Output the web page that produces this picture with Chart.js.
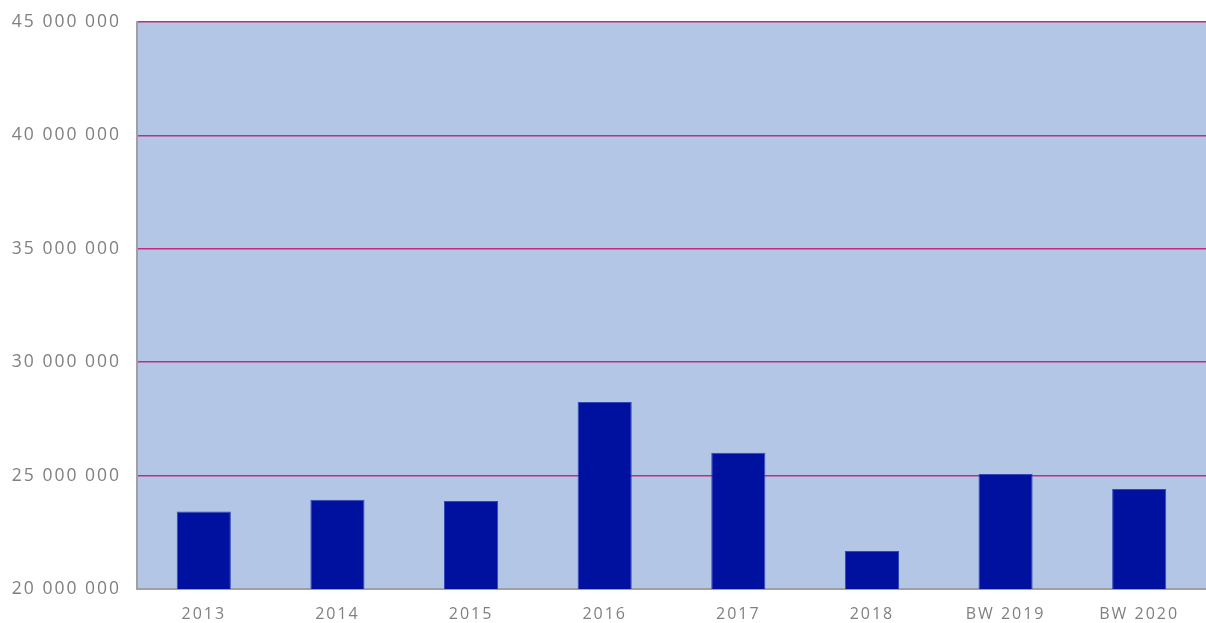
<!DOCTYPE html>
<html>
<head>
<meta charset="utf-8">
<script src="https://cdn.jsdelivr.net/npm/chart.js@4/dist/chart.umd.min.js"></script>
<style>
html,body{margin:0;padding:0;background:#fff;}
#wrap{width:1206px;height:623px;position:relative;}
</style>
</head>
<body>
<div id="wrap"><canvas id="c" width="1206" height="623"></canvas></div>
<script>
const categories = ["2013","2014","2015","2016","2017","2018","BW 2019","BW 2020"];
const values = [23420000, 23940000, 23880000, 28250000, 26010000, 21680000, 25070000, 24410000];
const yTicks = [20000000, 25000000, 30000000, 35000000, 40000000, 45000000];

function fmt(v){ return String(v).replace(/\B(?=(\d{3})+(?!\d))/g, " "); }

const LS = '2px';
const bgPlugin = {
  id: 'plotBg',
  beforeInit(chart){ chart.ctx.letterSpacing = LS; },
  beforeUpdate(chart){ chart.ctx.letterSpacing = LS; },
  beforeLayout(chart){ chart.ctx.letterSpacing = LS; },
  beforeDraw(chart){
    const {ctx, chartArea:a} = chart;
    ctx.letterSpacing = LS;
    ctx.save();
    ctx.fillStyle = '#B3C6E6';
    ctx.fillRect(a.left, a.top, a.right - a.left, a.bottom - a.top);
    ctx.restore();
  }
};

new Chart(document.getElementById('c'), {
  type: 'bar',
  data: {
    labels: categories,
    datasets: [{
      data: values,
      backgroundColor: '#00109F',
      borderColor: '#3048B8',
      borderWidth: 1,
      barPercentage: 0.405,
      categoryPercentage: 1.0
    }]
  },
  options: {
    responsive: false,
    animation: false,
    layout: { padding: { top: 0, right: 0, left: 0, bottom: 0 } },
    plugins: { legend: { display: false }, tooltip: { enabled: false } },
    scales: {
      x: {
        afterFit(axis){ axis.height = 34; },
        grid: { display: false, drawTicks: false },
        border: { display: true, color: '#A0A0A0', width: 2 },
        ticks: { color: '#808080', font: { family: 'Open Sans', size: 16 }, padding: 16 }
      },
      y: {
        min: 20000000, max: 45000000,
        afterFit(axis){ axis.width = 137; axis.paddingTop = 22; axis.paddingBottom = 0; },
        afterBuildTicks(axis){ axis.ticks = yTicks.map(v => ({value: v})); },
        grid: { color: '#C8287E', lineWidth: 1.5, drawTicks: false },
        border: { display: true, color: '#A0A0A0', width: 2 },
        ticks: { color: '#808080', font: { family: 'Open Sans', size: 17.5 }, padding: 16, callback: v => fmt(v) }
      }
    }
  },
  plugins: [bgPlugin]
});
</script>
</body>
</html>
